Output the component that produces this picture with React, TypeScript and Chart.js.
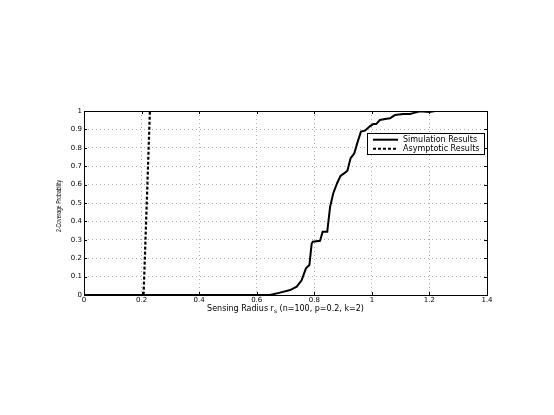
import React, { useEffect, useRef } from "react";
import { Chart, registerables } from "chart.js";
Chart.register(...registerables);

const simRadius = [0, 0.5, 0.646, 0.681, 0.716, 0.739, 0.756, 0.771, 0.783, 0.791, 0.795, 0.82, 0.829, 0.845, 0.855, 0.866, 0.88, 0.891, 0.907, 0.915, 0.926, 0.939, 0.949, 0.962, 0.976, 0.994, 1.005, 1.015, 1.028, 1.046, 1.063, 1.08, 1.109, 1.133, 1.15, 1.167, 1.2, 1.22, 1.35];
const simProb = [0, 0, 0, 0.013, 0.027, 0.045, 0.08, 0.145, 0.163, 0.28, 0.29, 0.295, 0.344, 0.344, 0.48, 0.553, 0.61, 0.647, 0.665, 0.675, 0.743, 0.77, 0.824, 0.888, 0.893, 0.918, 0.929, 0.929, 0.951, 0.957, 0.96, 0.978, 0.984, 0.984, 0.991, 0.998, 0.995, 1, 1];
const asymRadius = [0, 0.207, 0.229, 1.4];
const asymProb = [0, 0, 1, 1];
const seriesNames = ["Simulation Results", "Asymptotic Results"];
const xTitleMain = "Sensing Radius r";
const xTitleSub = "s";
const xTitleRest = " (n=100, p=0.2, k=2)";
const yTitle = "2-Coverage Probability";

const FONT = "'DejaVu Sans', sans-serif";
const FONT2 = "'Liberation Sans', Arial, sans-serif";

const fmt = (v: number) => String(Number(Number(v).toFixed(1)));

const framePlugin = {
  id: "frame",
  afterDraw(chart: any) {
    const { ctx, chartArea: a, scales } = chart;
    ctx.save();
    ctx.strokeStyle = "#000";
    ctx.lineWidth = 1;
    const tl = 3;
    scales.x.ticks.forEach((t: any) => {
      const px = Math.round(scales.x.getPixelForValue(t.value)) + 0.5;
      ctx.beginPath();
      ctx.moveTo(px, a.bottom); ctx.lineTo(px, a.bottom - tl);
      ctx.moveTo(px, a.top); ctx.lineTo(px, a.top + tl);
      ctx.stroke();
    });
    scales.y.ticks.forEach((t: any) => {
      const py = Math.round(scales.y.getPixelForValue(t.value)) + 0.5;
      ctx.beginPath();
      ctx.moveTo(a.left, py); ctx.lineTo(a.left + tl, py);
      ctx.moveTo(a.right, py); ctx.lineTo(a.right - tl, py);
      ctx.stroke();
    });
    ctx.strokeRect(Math.round(a.left) + 0.5, Math.round(a.top) + 0.5, Math.round(a.right - a.left), Math.round(a.bottom - a.top));

    // legend
    const lx = a.right - 120, ly = a.top + 22, lw = 117, lh = 21;
    ctx.fillStyle = "#fff";
    ctx.fillRect(lx, ly, lw, lh);
    ctx.strokeRect(Math.round(lx) + 0.5, Math.round(ly) + 0.5, lw, lh);
    ctx.font = `8px ${FONT}`;
    ctx.textBaseline = "middle";
    ctx.textAlign = "left";
    ctx.fillStyle = "#000";
    const rows = [ly + 6.7, ly + 15.7];
    rows.forEach((ry, i) => {
      ctx.beginPath();
      ctx.lineWidth = 2;
      ctx.setLineDash(i === 0 ? [] : [3, 2]);
      ctx.moveTo(lx + 6, ry);
      ctx.lineTo(lx + 31, ry);
      ctx.stroke();
      ctx.setLineDash([]);
      ctx.fillText(seriesNames[i], lx + 36, ry);
    });

    // x title
    const cx = (a.left + a.right) / 2;
    const ty = a.bottom + 14;
    const fmain = `8px ${FONT}`;
    const fsub = `6px ${FONT}`;
    ctx.font = fmain;
    const w1 = ctx.measureText(xTitleMain).width;
    const w3 = ctx.measureText(xTitleRest).width;
    ctx.font = fsub;
    const w2 = ctx.measureText(xTitleSub).width;
    const sx = cx - (w1 + w2 + w3) / 2;
    ctx.font = fmain;
    ctx.fillText(xTitleMain, sx, ty);
    ctx.font = fsub;
    ctx.fillText(xTitleSub, sx + w1, ty + 2.5);
    ctx.font = fmain;
    ctx.fillText(xTitleRest, sx + w1 + w2, ty);

    // y title (condensed)
    ctx.save();
    ctx.translate(a.left - 25, 206);
    ctx.rotate(-Math.PI / 2);
    ctx.scale(0.68, 1);
    ctx.textAlign = "center";
    ctx.font = `7.5px ${FONT2}`;
    ctx.fillText(yTitle, 0, 0);
    ctx.restore();

    ctx.restore();
  },
};

export default function App() {
  const ref = useRef<HTMLCanvasElement | null>(null);
  useEffect(() => {
    if (!ref.current) return;
    const chart = new Chart(ref.current, {
      type: "line",
      data: {
        datasets: [
          {
            label: seriesNames[0],
            data: simRadius.map((x, i) => ({ x, y: simProb[i] })),
            borderColor: "#000",
            borderWidth: 2,
            pointRadius: 0,
            tension: 0,
            fill: false,
          },
          {
            label: seriesNames[1],
            data: asymRadius.map((x, i) => ({ x, y: asymProb[i] })),
            borderColor: "#000",
            borderWidth: 2.2,
            borderDash: [3, 2],
            pointRadius: 0,
            tension: 0,
            fill: false,
          },
        ],
      },
      options: {
        animation: false,
        responsive: false,
        maintainAspectRatio: false,
        layout: { padding: { left: 60, right: 67, top: 111, bottom: 0 } },
        plugins: { legend: { display: false }, tooltip: { enabled: false } },
        scales: {
          x: {
            type: "linear",
            min: 0,
            max: 1.4,
            ticks: { stepSize: 0.2, color: "#000", font: { family: FONT, size: 7 }, padding: 1, maxRotation: 0, callback: (v: any) => fmt(v) },
            grid: { color: "#999", lineWidth: 0.8, drawTicks: false },
            border: { display: false, dash: [1, 3] },
            afterFit: (s: any) => { s.height = 120; },
          },
          y: {
            type: "linear",
            min: 0,
            max: 1,
            ticks: { stepSize: 0.1, color: "#000", font: { family: FONT, size: 7 }, padding: 2, callback: (v: any) => fmt(v) },
            grid: { color: "#999", lineWidth: 0.8, drawTicks: false },
            border: { display: false, dash: [1, 3] },
            afterFit: (s: any) => { s.width = 24; },
          },
        },
      },
      plugins: [framePlugin],
    });
    return () => chart.destroy();
  }, []);
  return (
    <div style={{ position: "absolute", left: 0, top: 0, width: 554, height: 415, background: "#fff" }}>
      <canvas ref={ref} width={554} height={415} style={{ display: "block" }} />
    </div>
  );
}
